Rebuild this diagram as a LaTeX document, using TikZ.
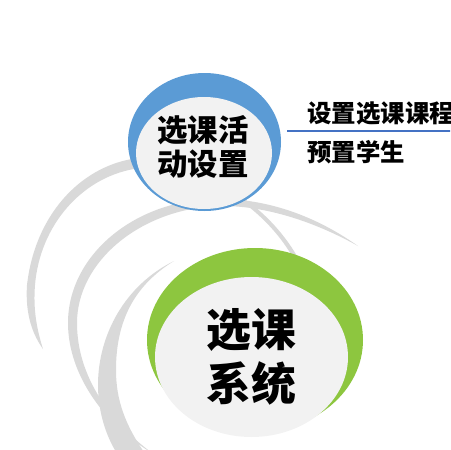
\documentclass[tikz,border=0pt]{standalone}
\usepackage{fontspec}
\newfontfamily\cjk{Noto Sans CJK SC}
\usepackage{tikz}
\usetikzlibrary{positioning}

\definecolor{arcgray}{HTML}{D9D9D9}
\definecolor{discgray}{HTML}{F2F2F2}
\definecolor{topblue}{HTML}{5B9BD5}
\definecolor{lineblue}{HTML}{4472C4}
\definecolor{sysgreen}{HTML}{8DC63F}

\tikzset{
  swirl/.style={fill=arcgray},
  title/.style={font=\cjk\bfseries, align=center, inner sep=0pt, text=black},
  item/.style={font=\cjk\bfseries\fontsize{13.9}{16}\selectfont, anchor=west, inner sep=0pt}
}

\begin{document}
\begin{tikzpicture}[x=0.02cm,y=-0.02cm]
  \useasboundingbox (0,0) rectangle (450,450);
  \clip (0,0) rectangle (450,450);

  % Swirls behind the discs
  \fill[swirl] (132,159) .. controls (80,168) and (35,215) .. (27,285)
    .. controls (25,315) and (33,335) .. (43,349)
    .. controls (37,330) and (33,310) .. (35,285)
    .. controls (40,225) and (82,178) .. (134,169) -- cycle;
  \fill[swirl] (358,246) .. controls (310,212) and (260,198) .. (215,199)
    .. controls (135,200) and (68,255) .. (68,323)
    .. controls (68,375) and (105,425) .. (152,453)
    .. controls (112,423) and (77,378) .. (77,323)
    .. controls (77,262) and (140,209) .. (218,206)
    .. controls (265,205) and (315,222) .. (358,246) -- cycle;
  \fill[swirl] (174,261) .. controls (125,285) and (98,335) .. (98,385)
    .. controls (98,415) and (108,440) .. (118,455)
    -- (146,455) .. controls (125,425) and (116,400) .. (116,370)
    .. controls (116,320) and (135,285) .. (174,261) -- cycle;
  \fill[swirl] (240,196) .. controls (262,210) and (283,232) .. (297,256)
    -- (292,256) .. controls (278,232) and (258,213) .. (241,201) -- cycle;

  % Activity disc
  \fill[topblue] (204.5,142) ellipse [x radius=76.5, y radius=69];
  \fill[discgray] (204,153) ellipse [x radius=68, y radius=56];
  \node[title, font=\cjk\bfseries\fontsize{17.3}{19.3}\selectfont] (setup) at (203,147) {选课活\\动设置};

  % System disc
  \fill[sysgreen] (255,340) ellipse [x radius=108, y radius=92];
  \fill[discgray] (251.5,357) ellipse [x radius=96.5, y radius=80];
  \node[title, font=\cjk\bfseries\fontsize{25.5}{30.6}\selectfont] (system) at (251,357) {选课\\系统};

  % Items of the activity
  \coordinate (lineL) at (287,131);
  \coordinate (lineR) at (452,131);
  \draw[lineblue, line width=1.1pt] (lineL) -- (lineR);
  \node[item] (course) at (307,113) {设置选课课程};
  \node[item] (student) at (307,152) {预置学生};
\end{tikzpicture}
\end{document}
